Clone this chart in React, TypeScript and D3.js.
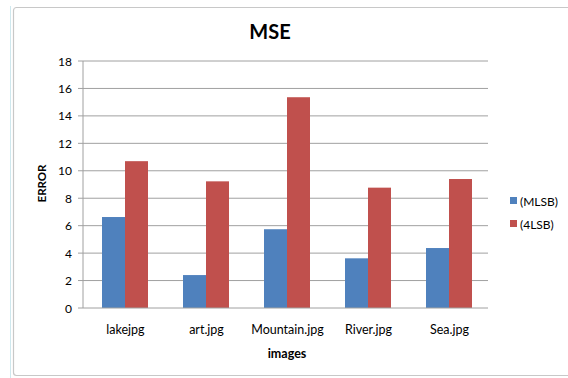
import React from "react";
import * as d3 from "d3";

const categories = ["lakejpg", "art.jpg", "Mountain.jpg", "River.jpg", "Sea.jpg"];
const mlsb = [6.63, 2.4, 5.74, 3.62, 4.37];
const lsb4 = [10.7, 9.23, 15.36, 8.77, 9.4];
const seriesNames = ["(MLSB)", "(4LSB)"];
const colors = ["#4F81BD", "#C0504D"];
const yTicks = [0, 2, 4, 6, 8, 10, 12, 14, 16, 18];

export default function App() {
  const W = 568, H = 378;
  const left = 83, right = 488, top = 61, bottom = 308;
  const x = d3.scaleBand<string>().domain(categories).range([left, right]).paddingInner(0).paddingOuter(0);
  const inner = d3.scaleBand<number>().domain([0, 1]).range([0, 46]);
  const y = d3.scaleLinear().domain([0, 18]).range([bottom, top]);
  const series = [mlsb, lsb4];
  const font = "Lato, 'Open Sans', sans-serif";
  return (
    <svg width={W} height={H} style={{ position: "absolute", left: 0, top: 0 }} fontFamily={font}>
      <rect x={0} y={0} width={W} height={H} fill="#fff" />
      {/* chart frame */}
      <line x1={10.5} y1={6} x2={10.5} y2={378} stroke="#cfe8ee" strokeWidth={1} />
      <rect x={13.5} y={7.5} width={W} height={368} fill="#fff" stroke="#c8c8c8" strokeWidth={1.2} rx={3} />
      <text x={270} y={39} textAnchor="middle" fontSize={20} fontWeight="bold" fill="#000">MSE</text>
      {/* gridlines */}
      {yTicks.map((t) => (
        <g key={t}>
          {t > 0 && <line x1={left} x2={right} y1={y(t)} y2={y(t)} stroke="#a0a0a0" strokeWidth={1} />}
          <line x1={left - 5} x2={left} y1={y(t)} y2={y(t)} stroke="#a0a0a0" />
          <text x={left - 11} y={y(t) + 4.5} textAnchor="end" fontSize={12} fill="#000">{t}</text>
        </g>
      ))}
      {/* bars */}
      {categories.map((c, i) => {
        const bw = x.bandwidth();
        const gx = (x(c) as number) + bw / 2 - 21.5;
        return series.map((s, k) => (
          <rect key={c + k} x={gx + (inner(k) as number)} y={y(s[i])} width={inner.bandwidth()}
            height={bottom - y(s[i])} fill={colors[k]} />
        ));
      })}
      {/* axes */}
      <line x1={left} x2={left} y1={top} y2={bottom} stroke="#a0a0a0" />
      <line x1={left} x2={right} y1={bottom} y2={bottom} stroke="#a0a0a0" />
      {categories.map((c) => (
        <text key={c} x={(x(c) as number) + x.bandwidth() / 2 + 2} y={334} textAnchor="middle" fontSize={12.5} fill="#000">{c}</text>
      ))}
      <text x={287} y={358} textAnchor="middle" fontSize={12.5} fontWeight="bold" fill="#000">images</text>
      <text transform={`translate(46,${(top + bottom) / 2 - 1}) rotate(-90)`} textAnchor="middle" fontSize={11.5} fontWeight="bold" fill="#000">ERROR</text>
      {/* legend */}
      {seriesNames.map((n, k) => (
        <g key={n}>
          <rect x={510} y={197 + k * 23} width={7} height={7} fill={colors[k]} />
          <text x={520} y={205.5 + k * 23} fontSize={12} fill="#000">{n}</text>
        </g>
      ))}
    </svg>
  );
}
